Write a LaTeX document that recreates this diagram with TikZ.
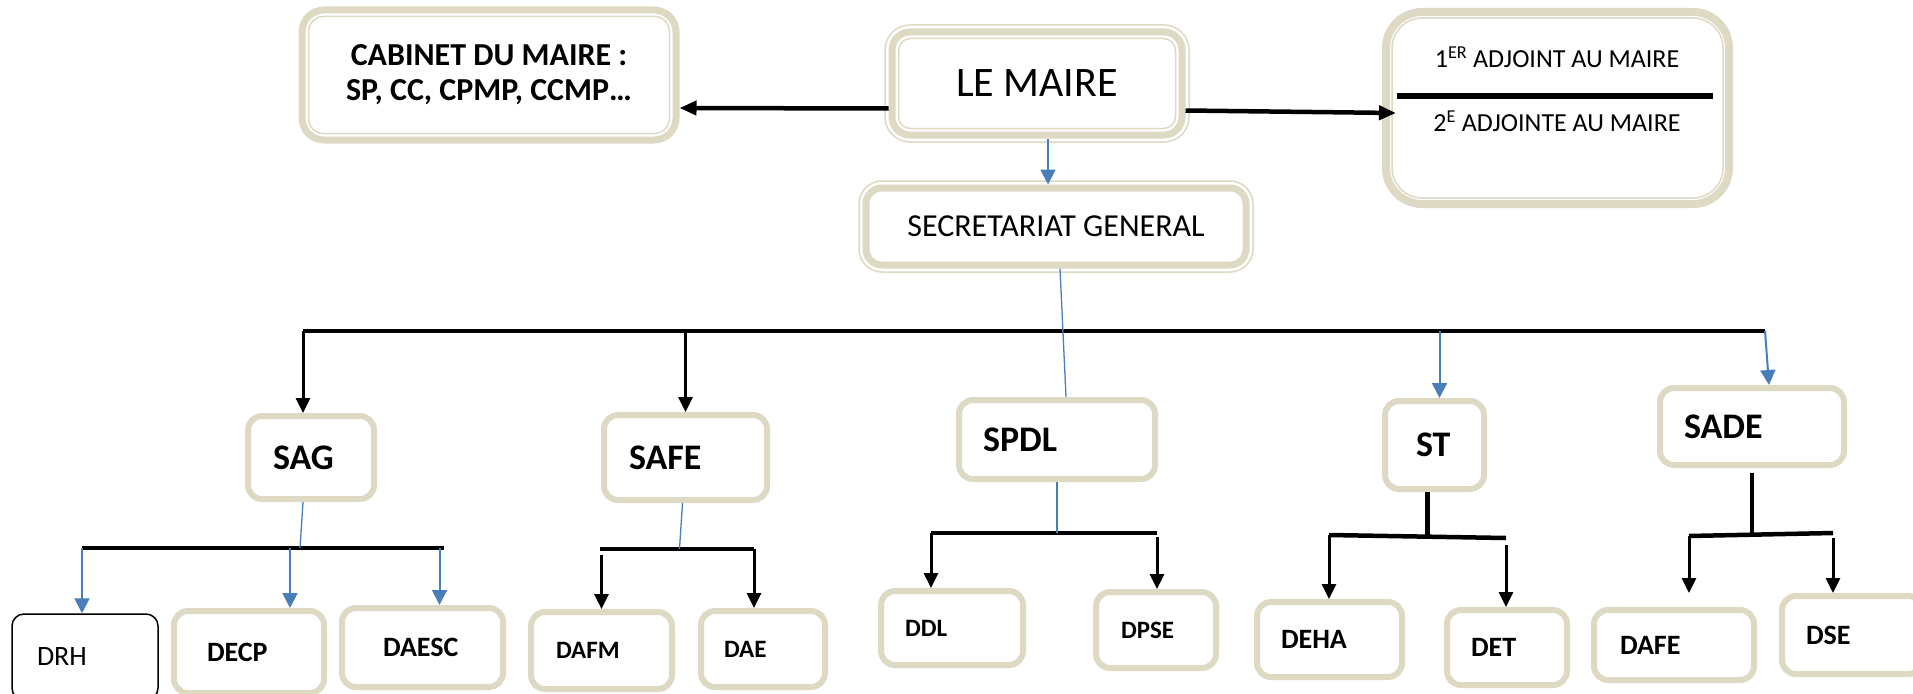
\documentclass[tikz,border=0pt]{standalone}
\usepackage{fontspec}
\setmainfont{Carlito}
\usetikzlibrary{arrows.meta,positioning}
\definecolor{beige}{HTML}{DDD9C3}
\definecolor{bleu}{HTML}{4A7EBB}
\tikzset{
  cadre/.style={draw=beige,line width=7pt,fill=white,align=center},
  filet/.style={draw=beige,line width=1.5pt},
  boite/.style n args={3}{draw=beige,line width=6pt,rounded corners=14pt,fill=white,
    minimum width=#1,minimum height=#2,inner xsep=#3,inner ysep=0pt,text width=#1-2*#3,align=left},
  niv2/.style={font=\bfseries\fontsize{36}{40}\selectfont},
  niv3/.style={font=\bfseries\fontsize{28}{32}\selectfont},
  petit/.style={font=\bfseries\fontsize{25}{30}\selectfont},
  fleche/.style={-{Triangle[length=17pt,width=14pt]},line width=4.5pt},
  noire/.style={-{Triangle[length=15pt,width=14pt]},line width=3pt},
  bleue/.style={-{Triangle[length=15pt,width=15pt]},draw=bleu,line width=2pt},
  trait/.style={draw=bleu,line width=1.3pt},
  barre/.style={line width=4.5pt}
}

\begin{document}
\begin{tikzpicture}[x=1pt,y=-1pt]
\useasboundingbox (0,0) rectangle (1913,693);

\node[cadre,rounded corners=22pt,minimum width=374pt,minimum height=130pt,
  font=\bfseries\fontsize{32}{35}\selectfont] (cab) at (489,75) {CABINET DU MAIRE :\\SP, CC, CPMP, CCMP…};
\node[cadre,rounded corners=18pt,minimum width=290pt,minimum height=103pt,
  font=\fontsize{42}{46}\selectfont] (maire) at (1037,83.5) {LE MAIRE};
\node[cadre,line width=8pt,rounded corners=36pt,minimum width=343pt,minimum height=192pt] (adj) at (1557.5,108) {};
\node[cadre,rounded corners=16pt,minimum width=380pt,minimum height=77pt,
  font=\fontsize{32}{36}\selectfont] (sg) at (1056,226.5) {SECRETARIAT GENERAL};

\foreach \n/\r in {cab/15,maire/12,adj/30}
  \draw[filet,rounded corners=\r pt] ([shift={(10pt,10pt)}]\n.south west) rectangle ([shift={(-10pt,-10pt)}]\n.north east);
\foreach \n/\r in {maire/25,sg/23}
  \draw[filet,rounded corners=\r pt] ([shift={(-3.5pt,-3.5pt)}]\n.south west) rectangle ([shift={(3.5pt,3.5pt)}]\n.north east);

\node[font=\fontsize{26}{30}\selectfont] (adjA) at (1557,57) {1\textsuperscript{ER} ADJOINT AU MAIRE};
\draw[line width=6pt] (1397,96) -- (1713,96);
\node[font=\fontsize{26}{30}\selectfont] (adjB) at (1557,121) {2\textsuperscript{E} ADJOINTE AU MAIRE};

\node[boite={126pt}{83pt}{25pt},niv2] (sag) at (311,457.5) {SAG};
\node[boite={163pt}{85pt}{25pt},niv2] (safe) at (685.5,457.5) {SAFE};
\node[boite={196pt}{79pt}{24pt},niv2] (spdl) at (1057,439.5) {SPDL};
\node[boite={99pt}{88pt}{31pt},niv2] (st) at (1434.5,445) {ST};
\node[boite={184pt}{77pt}{24pt},niv2] (sade) at (1752,426.5) {SADE};

\node[boite={146pt}{86pt}{25pt},draw=black,line width=1.5pt,rounded corners=12pt,
  font=\fontsize{28}{32}\selectfont] (drh) at (85,657) {DRH};
\node[boite={150pt}{82pt}{33pt},niv3] (decp) at (249,652) {DECP};
\node[boite={161pt}{79pt}{41pt},niv3] (daesc) at (422.5,647.5) {DAESC};
\node[boite={141pt}{77pt}{25pt},petit] (dafm) at (601.5,650.5) {DAFM};
\node[boite={124pt}{76pt}{23pt},petit] (dae) at (763,649) {DAE};
\node[boite={142pt}{74pt}{24pt},petit] (ddl) at (952,628) {DDL};
\node[boite={120pt}{76pt}{25pt},petit] (dpse) at (1156,630) {DPSE};
\node[boite={145pt}{75pt}{24pt},niv3] (deha) at (1329.5,639.5) {DEHA};
\node[boite={120pt}{75pt}{24pt},niv3] (det) at (1507,647.5) {DET};
\node[boite={160pt}{70pt}{26pt},niv3] (dafe) at (1674,645) {DAFE};
\node[boite={140pt}{78pt}{24pt},niv3] (dse) at (1852,635) {DSE};

\draw[fleche] ([yshift=-25pt]maire.west) -- ([yshift=-33pt]cab.east);
\draw[fleche] ([yshift=-27pt]maire.east) -- ([xshift=14pt,yshift=-5pt]adj.west);
\draw[bleue] ([xshift=11pt]maire.south) -- ([xshift=-8pt]sg.north);

\coordinate (bg) at (303,331);
\coordinate (bd) at (1765,331);
\draw[barre,line width=4pt] (bg) -- (bd);
\draw[trait] ([xshift=4pt]sg.south) -- ([xshift=9pt]spdl.north);
\draw[noire] (bg) -- (bg |- sag.north);
\draw[noire] (safe.north |- bg) -- (safe.north);
\draw[bleue] ([xshift=5pt]st.north |- bg) -- ([xshift=5pt]st.north);
\draw[bleue] (bd) -- ([xshift=17pt]sade.north);

\coordinate (sagG) at (82,548);
\coordinate (sagD) at (444,548);
\draw[barre] (sagG) -- (sagD);
\draw[trait] ([xshift=-8pt]sag.south) -- ([xshift=-11pt]sag.south |- sagG);
\draw[bleue] (sagG) -- (sagG |- drh.north);
\draw[bleue] ([xshift=41pt]decp.north |- sagG) -- ([xshift=41pt]decp.north);
\draw[bleue] ([xshift=17pt]daesc.north |- sagG) -- ([xshift=17pt]daesc.north);

\coordinate (safeG) at (600,549);
\coordinate (safeD) at (754,549);
\draw[barre] (safeG) -- (safeD);
\draw[trait] ([xshift=-3pt]safe.south) -- ([xshift=-6pt]safe.south |- safeG);
\draw[noire] ([yshift=-6pt]safeG -| dafm.north) -- (dafm.north);
\draw[noire] (safeD) -- (safeD |- dae.north);

\coordinate (spdlG) at (931,533);
\coordinate (spdlD) at (1157,533);
\draw[barre] (spdlG) -- (spdlD);
\draw[trait] (spdl.south) -- (spdl.south |- spdlG);
\draw[noire] (spdlG) -- (spdlG |- ddl.north);
\draw[noire] ([yshift=-4pt]spdlD) -- (spdlD |- dpse.north);

\coordinate (stG) at (1329,535);
\coordinate (stD) at (1506,538);
\draw[barre] (stG) -- (stD);
\draw[barre] ([xshift=-7pt]st.south) -- ([xshift=-7pt]st.south |- stG);
\draw[noire] (stG) -- (stG |- deha.north);
\draw[noire] ([yshift=-7pt]stD) -- (stD |- det.north);

\coordinate (sadeG) at (1689,536);
\coordinate (sadeD) at (1833,533);
\draw[barre] (sadeG) -- (sadeD);
\draw[barre] ([yshift=-5pt]sade.south) -- (sade.south |- sadeD);
\draw[noire] (sadeG) -- ([yshift=14pt]dafe.north -| sadeG);
\draw[noire] ([yshift=-5pt]sadeD) -- (sadeD |- dse.north);

\end{tikzpicture}
\end{document}
